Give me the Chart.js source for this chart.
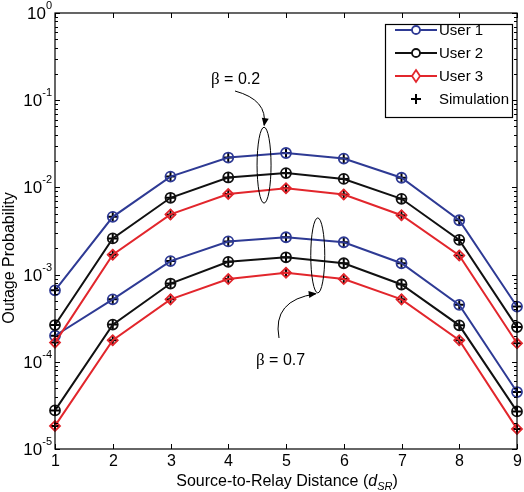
<!DOCTYPE html>
<html>
<head>
<meta charset="utf-8">
<script src="https://cdn.jsdelivr.net/npm/chart.js@4"></script>
<style>
  html, body { margin: 0; padding: 0; background: #fff; }
  #wrap { width: 524px; height: 492px; }
</style>
</head>
<body>
<div id="wrap"><canvas id="myChart" width="524" height="492"></canvas></div>
<script>
const distances = [1, 2, 3, 4, 5, 6, 7, 8, 9];

// beta = 0.2
const user1Beta02 = [6.6e-4, 4.6e-3, 1.33e-2, 2.2e-2, 2.48e-2, 2.14e-2, 1.29e-2, 4.2e-3, 4.3e-4];
const user2Beta02 = [2.64e-4, 2.6e-3, 7.6e-3, 1.3e-2, 1.46e-2, 1.25e-2, 7.4e-3, 2.5e-3, 2.5e-4];
const user3Beta02 = [1.66e-4, 1.69e-3, 4.9e-3, 8.4e-3, 9.8e-3, 8.3e-3, 4.8e-3, 1.66e-3, 1.63e-4];
// beta = 0.7
const user1Beta07 = [1.99e-4, 5.2e-4, 1.43e-3, 2.4e-3, 2.68e-3, 2.35e-3, 1.35e-3, 4.5e-4, 4.5e-5];
const user2Beta07 = [2.77e-5, 2.67e-4, 7.9e-4, 1.4e-3, 1.58e-3, 1.35e-3, 7.7e-4, 2.62e-4, 2.7e-5];
const user3Beta07 = [1.84e-5, 1.77e-4, 5.2e-4, 8.9e-4, 1.05e-3, 8.9e-4, 5.2e-4, 1.77e-4, 1.7e-5];

const yTickExponents = [0, -1, -2, -3, -4, -5];
const xTickLabels = ['1', '2', '3', '4', '5', '6', '7', '8', '9'];

const BLUE = '#2e3a94';
const BLACK = '#111111';
const RED = '#e2262c';
const FONT = '"Liberation Sans", Arial, sans-serif';

function pts(arr) {
  return arr.map((v, i) => ({ x: distances[i], y: v }));
}

function lineSet(label, arr, color, style) {
  return {
    label: label,
    data: pts(arr),
    borderColor: color,
    backgroundColor: '#ffffff',
    borderWidth: 2,
    pointStyle: style,
    pointRadius: 5,
    pointBorderWidth: 1.8,
    pointBorderColor: color,
    pointBackgroundColor: 'rgba(255,255,255,0)',
    tension: 0,
    fill: false,
    clip: false
  };
}

function simSet(arr) {
  return {
    label: 'Simulation',
    data: pts(arr),
    showLine: false,
    pointStyle: 'cross',
    pointRadius: 5,
    pointBorderWidth: 2,
    borderColor: '#000',
    pointBorderColor: '#000',
    clip: false
  };
}

const datasets = [
  lineSet('User 1', user1Beta02, BLUE, 'circle'),
  lineSet('User 2', user2Beta02, BLACK, 'circle'),
  lineSet('User 3', user3Beta02, RED, 'rectRot'),
  lineSet('User 1', user1Beta07, BLUE, 'circle'),
  lineSet('User 2', user2Beta07, BLACK, 'circle'),
  lineSet('User 3', user3Beta07, RED, 'rectRot'),
  simSet(user1Beta02), simSet(user2Beta02), simSet(user3Beta02),
  simSet(user1Beta07), simSet(user2Beta07), simSet(user3Beta07)
];

function drawArrowHead(ctx, x, y, angle) {
  ctx.save();
  ctx.translate(x, y);
  ctx.rotate(angle);
  ctx.beginPath();
  ctx.moveTo(0, 0);
  ctx.lineTo(-8, -3.5);
  ctx.lineTo(-8, 3.5);
  ctx.closePath();
  ctx.fillStyle = '#000';
  ctx.fill();
  ctx.restore();
}

function drawBeta(ctx, text, x, y) {
  ctx.textBaseline = 'middle';
  ctx.textAlign = 'left';
  ctx.fillStyle = '#000';
  ctx.font = '17px "Liberation Serif", serif';
  ctx.fillText('\u03b2', x, y);
  const w = ctx.measureText('\u03b2').width;
  ctx.font = '16px ' + FONT;
  ctx.fillText(text, x + w, y);
}

const decorPlugin = {
  id: 'decor',
  afterDraw(chart) {
    const ctx = chart.ctx;
    const xs = chart.scales.x, ys = chart.scales.y;
    const a = chart.chartArea;
    ctx.save();

    // frame
    ctx.strokeStyle = '#000';
    ctx.lineWidth = 1.2;
    ctx.strokeRect(a.left, a.top, a.right - a.left, a.bottom - a.top);

    // x ticks (bottom + top) and labels
    ctx.lineWidth = 1;
    ctx.font = '16px ' + FONT;
    ctx.fillStyle = '#000';
    ctx.textAlign = 'center';
    ctx.textBaseline = 'middle';
    distances.forEach((d, i) => {
      const px = Math.round(xs.getPixelForValue(d)) + 0.5;
      ctx.beginPath();
      ctx.moveTo(px, a.bottom); ctx.lineTo(px, a.bottom - 5);
      ctx.moveTo(px, a.top); ctx.lineTo(px, a.top + 5);
      ctx.stroke();
      ctx.fillText(xTickLabels[i], px, a.bottom + 13);
    });

    // y ticks, major and minor, both sides
    yTickExponents.forEach(e => {
      const py = Math.round(ys.getPixelForValue(Math.pow(10, e))) + 0.5;
      ctx.beginPath();
      ctx.moveTo(a.left, py); ctx.lineTo(a.left + 5, py);
      ctx.moveTo(a.right, py); ctx.lineTo(a.right - 5, py);
      ctx.stroke();
      if (e > -5) {
        for (let m = 2; m <= 9; m++) {
          const my = Math.round(ys.getPixelForValue(m * Math.pow(10, e - 1))) + 0.5;
          ctx.beginPath();
          ctx.moveTo(a.left, my); ctx.lineTo(a.left + 3, my);
          ctx.moveTo(a.right, my); ctx.lineTo(a.right - 3, my);
          ctx.stroke();
        }
      }
      // label 10^e
      ctx.textAlign = 'right';
      ctx.textBaseline = 'middle';
      const sup = String(e);
      ctx.font = '11px ' + FONT;
      const sw = ctx.measureText(sup).width;
      ctx.fillText(sup, a.left - 3, py - 8);
      ctx.font = '17px ' + FONT;
      ctx.fillText('10', a.left - 3 - sw, py + 1);
    });

    // axis titles
    ctx.font = '16px ' + FONT;
    ctx.textAlign = 'center';
    ctx.textBaseline = 'middle';
    ctx.save();
    ctx.translate(10, 258);
    ctx.rotate(-Math.PI / 2);
    ctx.fillText('Outage Probability', 0, 0);
    ctx.restore();

    const t1 = 'Source-to-Relay Distance (';
    ctx.font = '16px ' + FONT;
    const w1 = ctx.measureText(t1).width;
    ctx.font = 'italic 16px ' + FONT;
    const wd = ctx.measureText('d').width;
    ctx.font = 'italic 11px ' + FONT;
    const ws = ctx.measureText('SR').width;
    ctx.font = '16px ' + FONT;
    const wp = ctx.measureText(')').width;
    let tx = 287 - (w1 + wd + ws + wp) / 2;
    const ty = 482;
    ctx.textAlign = 'left';
    ctx.fillText(t1, tx, ty); tx += w1;
    ctx.font = 'italic 16px ' + FONT;
    ctx.fillText('d', tx, ty); tx += wd;
    ctx.font = 'italic 11px ' + FONT;
    ctx.fillText('SR', tx, ty + 5); tx += ws;
    ctx.font = '16px ' + FONT;
    ctx.fillText(')', tx, ty);

    // annotations: ellipses + arrows
    ctx.strokeStyle = '#000';
    ctx.lineWidth = 1;
    const e1x = xs.getPixelForValue(4.62);
    const e1t = ys.getPixelForValue(Math.pow(10, -1.31));
    const e1b = ys.getPixelForValue(Math.pow(10, -2.18));
    ctx.beginPath();
    ctx.ellipse(e1x, (e1t + e1b) / 2, 7, (e1b - e1t) / 2, 0, 0, Math.PI * 2);
    ctx.stroke();
    const e2x = xs.getPixelForValue(5.55);
    const e2t = ys.getPixelForValue(Math.pow(10, -2.35));
    const e2b = ys.getPixelForValue(Math.pow(10, -3.21));
    ctx.beginPath();
    ctx.ellipse(e2x, (e2t + e2b) / 2, 7, (e2b - e2t) / 2, 0, 0, Math.PI * 2);
    ctx.stroke();

    // arrow beta 0.2
    ctx.beginPath();
    ctx.moveTo(235, 91);
    ctx.quadraticCurveTo(268, 100, e1x, e1t - 2);
    ctx.stroke();
    drawArrowHead(ctx, e1x, e1t - 1, Math.atan2(e1t - 2 - 100, e1x - 268));

    // arrow beta 0.7
    ctx.beginPath();
    ctx.moveTo(279, 338);
    ctx.quadraticCurveTo(272, 300, e2x - 2, e2b + 1);
    ctx.stroke();
    drawArrowHead(ctx, e2x - 1, e2b + 0.5, Math.atan2(e2b + 1 - 300, e2x - 2 - 272));

    drawBeta(ctx, ' = 0.2', 211, 80);
    drawBeta(ctx, ' = 0.7', 256, 361);

    // legend
    const lx = 385, ly = 24, lw = 127, lh = 93;
    ctx.fillStyle = '#fff';
    ctx.fillRect(lx, ly, lw, lh);
    ctx.strokeStyle = '#000';
    ctx.lineWidth = 1.2;
    ctx.strokeRect(lx + 0.5, ly + 0.5, lw, lh);
    const entries = [
      { label: 'User 1', color: BLUE, marker: 'circle' },
      { label: 'User 2', color: BLACK, marker: 'circle' },
      { label: 'User 3', color: RED, marker: 'diamond' },
      { label: 'Simulation', color: '#000', marker: 'cross' }
    ];
    entries.forEach((en, i) => {
      const cy = 30 + i * 23;
      const mx = 416;
      ctx.strokeStyle = en.color;
      if (en.marker !== 'cross') {
        ctx.lineWidth = 2;
        ctx.beginPath();
        ctx.moveTo(395, cy); ctx.lineTo(437, cy);
        ctx.stroke();
      }
      ctx.lineWidth = 1.8;
      ctx.beginPath();
      if (en.marker === 'circle') {
        ctx.fillStyle = '#fff';
        ctx.arc(mx, cy, 4, 0, Math.PI * 2);
        ctx.fill();
        ctx.stroke();
      } else if (en.marker === 'diamond') {
        ctx.fillStyle = '#fff';
        ctx.moveTo(mx, cy - 6); ctx.lineTo(mx + 4, cy);
        ctx.lineTo(mx, cy + 6); ctx.lineTo(mx - 4, cy);
        ctx.closePath();
        ctx.fill();
        ctx.stroke();
      } else {
        ctx.lineWidth = 2;
        ctx.moveTo(mx - 5, cy); ctx.lineTo(mx + 5, cy);
        ctx.moveTo(mx, cy - 5); ctx.lineTo(mx, cy + 5);
        ctx.stroke();
      }
      ctx.fillStyle = '#000';
      ctx.font = '15px ' + FONT;
      ctx.textAlign = 'left';
      ctx.textBaseline = 'middle';
      ctx.fillText(en.label, 439, cy + 1);
    });

    ctx.restore();
  }
};

const config = {
  type: 'line',
  data: { datasets: datasets },
  options: {
    responsive: false,
    animation: false,
    layout: { padding: { left: 55, right: 5, top: 13, bottom: 43 } },
    plugins: {
      legend: { display: false },
      tooltip: { enabled: false }
    },
    scales: {
      x: {
        type: 'linear',
        min: 1,
        max: 9,
        ticks: { display: false },
        grid: { display: false, drawTicks: false },
        border: { display: false }
      },
      y: {
        type: 'logarithmic',
        min: 1e-5,
        max: 1,
        ticks: { display: false },
        grid: { display: false, drawTicks: false },
        border: { display: false }
      }
    }
  },
  plugins: [decorPlugin]
};

new Chart(document.getElementById('myChart').getContext('2d'), config);
</script>
</body>
</html>
